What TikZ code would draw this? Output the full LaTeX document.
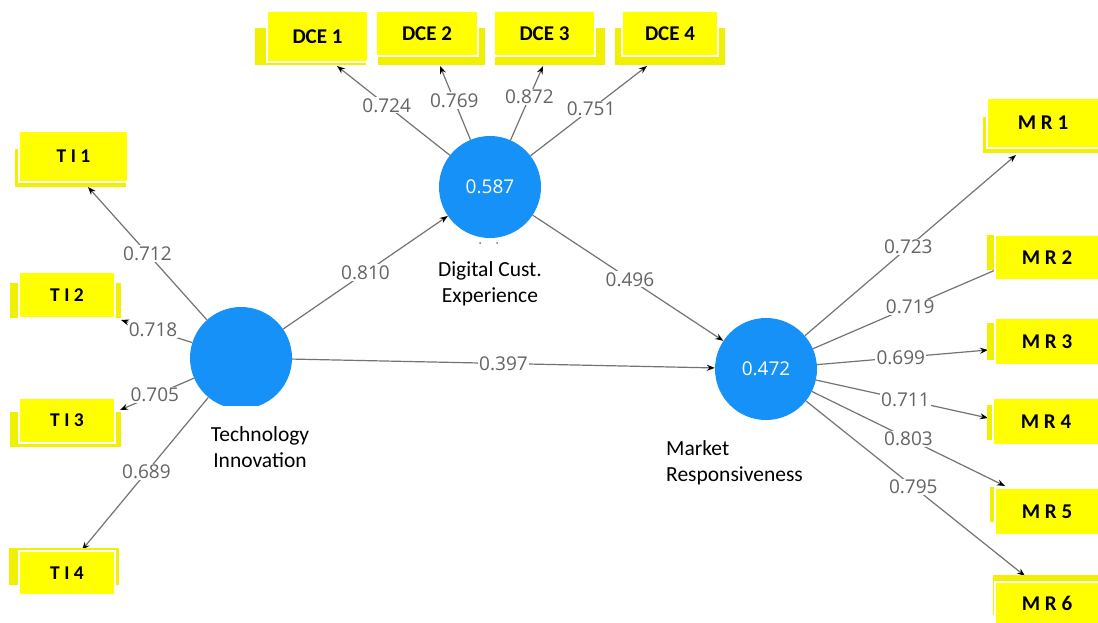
\documentclass[tikz,border=0pt]{standalone}
\usepackage{fontspec}
\setmainfont{Carlito}
\newfontfamily\numfont{Open Sans}
\usetikzlibrary{arrows.meta}
\definecolor{lvblue}{RGB}{22,145,247}
\definecolor{boxyellow}{RGB}{255,255,0}
\definecolor{backyellow}{RGB}{240,240,0}
\definecolor{linegray}{RGB}{115,115,115}
\definecolor{numgray}{RGB}{100,100,100}
\begin{document}
\begin{tikzpicture}[x=1pt,y=-1pt,
  lv/.style={circle, fill=lvblue, minimum size=102pt, inner sep=0pt, text=white,
    font=\numfont\fontsize{19}{22}\selectfont},
  lvname/.style={inner sep=1pt, font=\fontsize{21.5}{26}\selectfont},
  load/.style={fill=white, inner sep=1.2pt, text=numgray,
    font=\numfont\fontsize{19}{22}\selectfont},
  conn/.style={draw=linegray, line width=1.2pt, -{Stealth[length=8pt,width=6pt,black]}},
  indbox/.style={fill=boxyellow, draw=white, line width=2pt, inner sep=0pt,
    font=\bfseries\fontsize{21}{24}\selectfont},
  tibox/.style={indbox, font=\bfseries\fontsize{19.5}{22}\selectfont},
  backbox/.style={fill=backyellow}
]
\useasboundingbox (0,0) rectangle (1098,623);

% latent variables
\begin{scope}
  \clip (0,0) rectangle (1098,405);
  \node[lv] (ti) at (241,358) {};
\end{scope}
\node[lv] (dce) at (490,187) {0.587};
\node[lv] (mr) at (766,369) {0.472};

\node[lvname, align=center] (tiname) at (260,447) {Technology\\Innovation};
\node[lvname, align=center] (dcename) at (490,284) {Digital Cust.\\Experience};
\node[lvname, align=left, anchor=west] (mrname) at (665,463) {Market\\Responsiveness};
\fill[linegray] (480,243) circle (1pt) (497,243) circle (1pt);

% arrow tips at the indicator boxes
\coordinate (ti1tip) at (88,187);
\coordinate (ti2tip) at (121,320);
\coordinate (ti3tip) at (120,410);
\coordinate (ti4tip) at (82,550);
\coordinate (dce1tip) at (337,66);
\coordinate (dce2tip) at (440,66);
\coordinate (dce3tip) at (543,66);
\coordinate (dce4tip) at (647,66);
\coordinate (mr1tip) at (1016,155);
\coordinate (mr2tip) at (1000,268);
\coordinate (mr3tip) at (988,350);
\coordinate (mr4tip) at (988,418);
\coordinate (mr5tip) at (1005,486);
\coordinate (mr6tip) at (1025,576);

% structural paths
\draw[conn] (ti) -- node[load, pos=0.5] {0.810} (dce);
\draw[conn] (dce) -- node[load, pos=0.51] {0.496} (mr);
\draw[conn] (ti) -- node[load, pos=0.5] {0.397} (mr);

% outer loadings
\draw[conn] (ti) -- node[load, pos=0.5] {0.712} (ti1tip);
\draw[conn] (ti) -- node[load, pos=0.55] {0.718} (ti2tip);
\draw[conn] (ti) -- node[load, pos=0.53] {0.705} (ti3tip);
\draw[conn] (ti) -- node[load, pos=0.49] {0.689} (ti4tip);
\draw[conn] (dce) -- node[load, pos=0.56] {0.724} (dce1tip);
\draw[conn] (dce) -- node[load, pos=0.53] {0.769} (dce2tip);
\draw[conn] (dce) -- node[load, pos=0.58] {0.872} (dce3tip);
\draw[conn] (dce) -- node[load, pos=0.52] {0.751} (dce4tip);
\draw[conn] (mr) -- node[load, pos=0.49] {0.723} (mr1tip);
\draw[conn] (mr) -- node[load, pos=0.52] {0.719} (mr2tip);
\draw[conn] (mr) -- node[load, pos=0.49] {0.699} (mr3tip);
\draw[conn] (mr) -- node[load, pos=0.52] {0.711} (mr4tip);
\draw[conn] (mr) -- node[load, pos=0.50] {0.803} (mr5tip);
\draw[conn] (mr) -- node[load, pos=0.49] {0.795} (mr6tip);

% indicator boxes: a yellow backing plate and a white-edged front box
\fill[backbox] (255,28) rectangle (366,65);
\fill[backbox] (378,28) rectangle (485,65);
\fill[backbox] (495,28) rectangle (605,65);
\fill[backbox] (615,28) rectangle (725,65);
\node[indbox, minimum width=101pt, minimum height=51pt] (dce1) at (317.5,36.5) {DCE 1};
\node[indbox, minimum width=102pt, minimum height=45pt] (dce2) at (427,33.5) {DCE 2};
\node[indbox, minimum width=101pt, minimum height=45pt] (dce3) at (544.5,33.5) {DCE 3};
\node[indbox, minimum width=96pt, minimum height=45pt] (dce4) at (670,33.5) {DCE 4};

\fill[backbox] (15,149) rectangle (126,187);
\fill[backbox] (10,283) rectangle (121,318);
\fill[backbox] (10,412) rectangle (121,447);
\fill[backbox] (9,548) rectangle (119,585);
\node[tibox, minimum width=109pt, minimum height=51pt] (ti1) at (73.5,156.5) {T I 1};
\node[tibox, minimum width=96pt, minimum height=46pt] (ti2) at (67,295) {T I 2};
\node[tibox, minimum width=96pt, minimum height=45pt] (ti3) at (67,420.5) {T I 3};
\node[tibox, minimum width=96pt, minimum height=44pt] (ti4) at (67,573) {T I 4};

\fill[backbox] (983,117) rectangle (1098,153);
\fill[backbox] (987,235) rectangle (1098,270);
\fill[backbox] (987,323) rectangle (1098,360);
\fill[backbox] (987,405) rectangle (1098,440);
\fill[backbox] (990,487) rectangle (1098,522);
\fill[backbox] (993,575) rectangle (1098,615);
\node[indbox, minimum width=112pt, minimum height=50pt] (mr1) at (1043,123) {M R 1};
\node[indbox, minimum width=104pt, minimum height=45pt] (mr2) at (1047,257.5) {M R 2};
\node[indbox, minimum width=104pt, minimum height=47pt] (mr3) at (1047,341.5) {M R 3};
\node[indbox, minimum width=106pt, minimum height=47pt] (mr4) at (1046,421.5) {M R 4};
\node[indbox, minimum width=104pt, minimum height=47pt] (mr5) at (1047,511.5) {M R 5};
\node[indbox, minimum width=104pt, minimum height=42pt] (mr6) at (1047,603) {M R 6};
\end{tikzpicture}
\end{document}
